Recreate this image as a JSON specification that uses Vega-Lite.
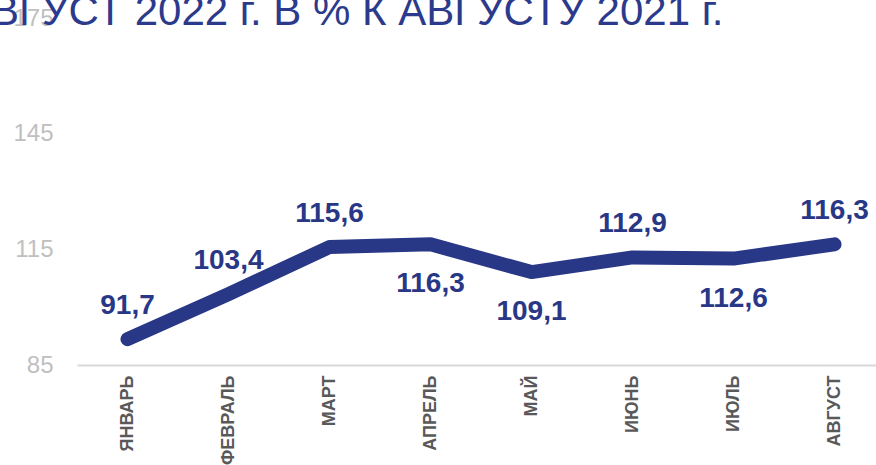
{
  "$schema": "https://vega.github.io/schema/vega-lite/v6.json",
  "width": 808,
  "height": 347,
  "autosize": "none",
  "padding": {"left": 77, "top": 18, "right": 0, "bottom": 100},
  "background": "white",
  "title": {
    "text": "ВГУСТ 2022 г. В % К АВГУСТУ 2021 г.",
    "anchor": "start",
    "frame": "group",
    "orient": "top",
    "offset": 0,
    "dx": -86,
    "dy": 61,
    "baseline": "alphabetic",
    "font": "Liberation Sans",
    "fontSize": 42,
    "fontWeight": "normal",
    "color": "#2b3a8c"
  },
  "data": {
    "values": [
      {"month": "ЯНВАРЬ", "value": 91.7, "label": "91,7"},
      {"month": "ФЕВРАЛЬ", "value": 103.4, "label": "103,4"},
      {"month": "МАРТ", "value": 115.6, "label": "115,6"},
      {"month": "АПРЕЛЬ", "value": 116.3, "label": "116,3"},
      {"month": "МАЙ", "value": 109.1, "label": "109,1"},
      {"month": "ИЮНЬ", "value": 112.9, "label": "112,9"},
      {"month": "ИЮЛЬ", "value": 112.6, "label": "112,6"},
      {"month": "АВГУСТ", "value": 116.3, "label": "116,3"}
    ]
  },
  "encoding": {
    "x": {
      "field": "month",
      "type": "ordinal",
      "sort": null,
      "scale": {"type": "point", "padding": 0.5},
      "axis": {
        "title": null,
        "labelAngle": -90,
        "labelAlign": "right",
        "labelBaseline": "middle",
        "labelFont": "Liberation Sans",
        "labelFontWeight": "bold",
        "labelFontSize": 18,
        "labelColor": "#595959",
        "labelPadding": 10,
        "ticks": false,
        "domainColor": "#d9d9d9",
        "domainWidth": 2,
        "grid": false
      }
    },
    "y": {
      "field": "value",
      "type": "quantitative",
      "scale": {"domain": [85, 175], "nice": false, "zero": false},
      "axis": {
        "title": null,
        "values": [85, 115, 145, 175],
        "labelFont": "Liberation Sans",
        "labelFontSize": 24,
        "labelColor": "#bfbfbf",
        "labelPadding": 24,
        "ticks": false,
        "domain": false,
        "grid": false
      }
    }
  },
  "layer": [
    {
      "mark": {"type": "line", "color": "#283786", "strokeWidth": 14, "strokeCap": "round", "strokeJoin": "round"}
    },
    {
      "transform": [{"filter": {"not": {"field": "month", "oneOf": ["АПРЕЛЬ", "МАЙ", "ИЮЛЬ"]}}}],
      "mark": {"type": "text", "dy": -33, "baseline": "middle", "font": "Liberation Sans", "fontWeight": "bold", "fontSize": 28, "color": "#283786"},
      "encoding": {"text": {"field": "label"}}
    },
    {
      "transform": [{"filter": {"field": "month", "oneOf": ["АПРЕЛЬ", "МАЙ", "ИЮЛЬ"]}}],
      "mark": {"type": "text", "dy": 40, "baseline": "middle", "font": "Liberation Sans", "fontWeight": "bold", "fontSize": 28, "color": "#283786"},
      "encoding": {"text": {"field": "label"}}
    }
  ],
  "config": {"view": {"stroke": null}}
}
